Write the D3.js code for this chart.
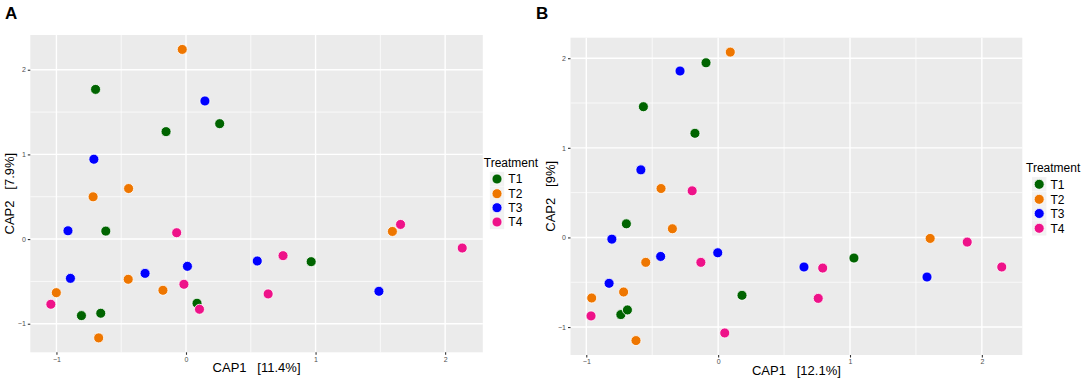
<!DOCTYPE html>
<html><head><meta charset="utf-8">
<script src="https://cdn.jsdelivr.net/npm/d3@7"></script>
<style>body{margin:0;background:#fff}svg{display:block;font-family:"Liberation Sans",Arial,sans-serif}</style>
</head><body>
<svg id="c" width="1084" height="382"></svg>
<script>
const groups = ["T1","T2","T3","T4"];
const colors = ["#006400","#EE7600","#0000FF","#EE1289"];
const xTicks = [-1,0,1,2];
const yTicks = [-1,0,1,2];

// Panel A
const aT1x = [-0.698,-0.154,0.260,-0.619,0.966,0.085,-0.807,-0.658];
const aT1y = [1.768,1.269,1.363,0.094,-0.267,-0.758,-0.904,-0.876];
const aT2x = [-0.029,-0.443,-0.717,1.593,-0.446,-0.178,-1.001,-0.674];
const aT2y = [2.240,0.597,0.499,0.090,-0.475,-0.605,-0.633,-1.167];
const aT3x = [0.146,-0.711,-0.911,0.550,0.011,-0.316,-0.892,1.489];
const aT3y = [1.631,0.943,0.098,-0.259,-0.322,-0.405,-0.464,-0.617];
const aT4x = [1.656,-0.072,2.132,0.749,-0.016,0.634,0.104,-1.043];
const aT4y = [0.173,0.075,-0.106,-0.196,-0.534,-0.648,-0.829,-0.770];

// Panel B
const bT1x = [-0.092,-0.567,-0.176,-0.696,1.030,0.181,-0.738,-0.688];
const bT1y = [1.949,1.459,1.162,0.152,-0.230,-0.646,-0.861,-0.809];
const bT2x = [0.092,-0.433,-0.347,-0.549,1.608,-0.717,-0.959,-0.623];
const bT2y = [2.068,0.546,0.097,-0.278,-0.011,-0.609,-0.676,-1.151];
const bT3x = [-0.289,-0.586,-0.806,-0.436,-0.003,0.651,-0.827,1.584];
const bT3y = [1.857,0.754,-0.019,-0.212,-0.171,-0.330,-0.512,-0.442];
const bT4x = [-0.197,-0.131,1.889,2.151,0.793,0.759,-0.964,0.050];
const bT4y = [0.520,-0.278,-0.052,-0.330,-0.342,-0.680,-0.876,-1.066];

const panels = [
  {tag:"A", xs:[aT1x,aT2x,aT3x,aT4x], ys:[aT1y,aT2y,aT3y,aT4y], xlab:"CAP1   [11.4%]", ylab:"CAP2   [7.9%]",
   box:{l:30.3,r:482.8,t:35,b:352.3}, tagPos:[5,19], ytitleX:14, legX:483.8, legTitleY:167, legKeyY:[179,193.7,207.7,222]},
  {tag:"B", xs:[bT1x,bT2x,bT3x,bT4x], ys:[bT1y,bT2y,bT3y,bT4y], xlab:"CAP1   [12.1%]", ylab:"CAP2   [9%]",
   box:{l:570.5,r:1022.3,t:37.7,b:355}, tagPos:[536,19], ytitleX:555, legX:1026, legTitleY:171.5, legKeyY:[184.3,199.3,213.5,228.3]}
];

const svg = d3.select("#c");

function expand(vals){
  const mn = d3.min(vals), mx = d3.max(vals), pad = (mx-mn)*0.05;
  return [mn-pad, mx+pad];
}

panels.forEach(p => {
  const allX = p.xs.flat(), allY = p.ys.flat();
  const x = d3.scaleLinear().domain(expand(allX)).range([p.box.l, p.box.r]);
  const y = d3.scaleLinear().domain(expand(allY)).range([p.box.b, p.box.t]);
  const g = svg.append("g");

  g.append("text").attr("x",p.tagPos[0]).attr("y",p.tagPos[1]).attr("font-size",17).attr("font-weight","bold").attr("fill","#000").text(p.tag);

  g.append("rect").attr("x",p.box.l).attr("y",p.box.t).attr("width",p.box.r-p.box.l).attr("height",p.box.b-p.box.t).attr("fill","#EBEBEB");

  const xd = x.domain(), yd = y.domain();
  const minorX = d3.range(Math.ceil(xd[0]*2)/2, xd[1], 0.5).filter(v => Math.abs(v%1) > 0.01);
  const minorY = d3.range(Math.ceil(yd[0]*2)/2, yd[1], 0.5).filter(v => Math.abs(v%1) > 0.01);
  g.selectAll(".mnx").data(minorX).join("line").attr("x1",d=>x(d)).attr("x2",d=>x(d)).attr("y1",p.box.t).attr("y2",p.box.b).attr("stroke","#fff").attr("stroke-width",0.7);
  g.selectAll(".mny").data(minorY).join("line").attr("y1",d=>y(d)).attr("y2",d=>y(d)).attr("x1",p.box.l).attr("x2",p.box.r).attr("stroke","#fff").attr("stroke-width",0.7);
  g.selectAll(".mjx").data(xTicks).join("line").attr("x1",d=>x(d)).attr("x2",d=>x(d)).attr("y1",p.box.t).attr("y2",p.box.b).attr("stroke","#fff").attr("stroke-width",1.4);
  g.selectAll(".mjy").data(yTicks).join("line").attr("y1",d=>y(d)).attr("y2",d=>y(d)).attr("x1",p.box.l).attr("x2",p.box.r).attr("stroke","#fff").attr("stroke-width",1.4);

  const xAxis = g.append("g").attr("transform",`translate(0,${p.box.b})`)
    .call(d3.axisBottom(x).tickValues(xTicks).tickSize(2.5).tickPadding(2).tickFormat(d3.format("d")));
  const yAxis = g.append("g").attr("transform",`translate(${p.box.l},0)`)
    .call(d3.axisLeft(y).tickValues(yTicks).tickSize(2.5).tickPadding(2).tickFormat(d3.format("d")));
  [xAxis,yAxis].forEach(a => {
    a.select(".domain").remove();
    a.selectAll(".tick line").attr("stroke","#333").attr("stroke-width",1.1);
    a.selectAll(".tick text").attr("fill","#4D4D4D").attr("font-size",7).attr("font-family","Liberation Sans, Arial, sans-serif");
  });

  g.append("text").attr("x",(p.box.l+p.box.r)/2).attr("y",p.box.b+20).attr("text-anchor","middle").attr("font-size",13).attr("fill","#000")
    .style("white-space","pre").text(p.xlab);
  g.append("text").attr("transform",`translate(${p.ytitleX},${(p.box.t+p.box.b)/2}) rotate(-90)`).attr("text-anchor","middle").attr("font-size",13).attr("fill","#000")
    .style("white-space","pre").text(p.ylab);

  groups.forEach((grp,i) => {
    const pts = p.xs[i].map((v,j)=>[v,p.ys[i][j]]);
    g.selectAll(".pt"+i).data(pts).join("circle")
      .attr("cx",d=>x(d[0])).attr("cy",d=>y(d[1])).attr("r",5)
      .attr("fill",colors[i]).attr("stroke","#fff").attr("stroke-width",0.8);
  });

  // legend
  const lg = g.append("g");
  lg.append("text").attr("x",p.legX).attr("y",p.legTitleY).attr("font-size",12).attr("fill","#000").text("Treatment");
  groups.forEach((grp,i) => {
    const ky = p.legKeyY[i];
    lg.append("rect").attr("x",p.legX+6).attr("y",ky-7.2).attr("width",14.4).attr("height",14.4).attr("fill","#F2F2F2");
    lg.append("circle").attr("cx",p.legX+13.2).attr("cy",ky).attr("r",5).attr("fill",colors[i]).attr("stroke","#fff").attr("stroke-width",0.8);
    lg.append("text").attr("x",p.legX+24.5).attr("y",ky+4.3).attr("font-size",12).attr("fill","#000").text(grp);
  });
});
</script>
</body></html>
